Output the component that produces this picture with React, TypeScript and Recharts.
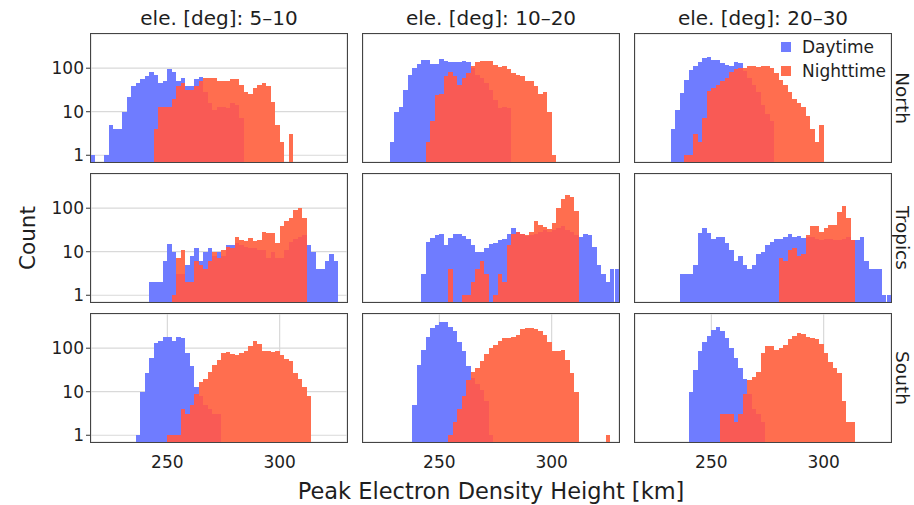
import { BarChart, Bar, XAxis, YAxis, CartesianGrid } from 'recharts';

// 2 km histogram bins between 216 and 330 km (centres)
const binCentres = [
  217, 219, 221, 223, 225, 227, 229, 231, 233, 235, 237, 239, 241, 243, 245, 247, 249, 251, 253,
  255, 257, 259, 261, 263, 265, 267, 269, 271, 273, 275, 277, 279, 281, 283, 285, 287, 289, 291,
  293, 295, 297, 299, 301, 303, 305, 307, 309, 311, 313, 315, 317, 319, 321, 323, 325, 327, 329,
];

const elevationBins = ['5–10', '10–20', '20–30'];
const regions = ['North', 'Tropics', 'South'];
const xTicks = [250, 300];
const yTicks = [1, 10, 100];

// counts per bin, North
const northDay_5_10 = [
  1, 0, 0, 1, 5, 4, 4, 10, 22, 38, 45, 55, 65, 80, 70, 45, 50, 95, 80, 50,
  58, 38, 40, 55, 62, 29, 16, 11, 13, 13, 12, 16, 14, 7, 0, 0, 0, 0, 0, 0,
  0, 0, 0, 0, 0, 0, 0, 0, 0, 0, 0, 0, 0, 0, 0, 0, 0,
];
const northNight_5_10 = [
  0, 0, 0, 0, 0, 0, 0, 0, 0, 0, 0, 0, 0, 0, 4, 13, 13, 13, 20, 38,
  45, 32, 32, 38, 50, 60, 60, 60, 50, 50, 50, 55, 55, 42, 29, 25, 35, 42, 45, 38,
  17, 5, 2, 0, 3, 0, 0, 0, 0, 0, 0, 0, 0, 0, 0, 0, 0,
];
const northDay_10_20 = [
  0, 0, 0, 0, 0, 0, 2, 10, 13, 32, 70, 100, 123, 155, 155, 125, 125, 165, 150, 142,
  142, 138, 150, 138, 100, 70, 59, 45, 32, 19, 12, 13, 12, 0, 0, 0, 0, 0, 0, 0,
  0, 0, 0, 0, 0, 0, 0, 0, 0, 0, 0, 0, 0, 0, 0, 0, 0,
];
const northNight_10_20 = [
  0, 0, 0, 0, 0, 0, 0, 0, 0, 0, 0, 0, 0, 0, 2, 6, 24, 25, 65, 80,
  65, 42, 59, 78, 110, 138, 146, 146, 146, 120, 105, 110, 97, 78, 70, 65, 51, 50, 38, 25,
  29, 10, 1, 0, 0, 0, 0, 0, 0, 0, 0, 0, 0, 0, 0, 0, 0,
];
const northDay_20_30 = [
  0, 0, 0, 0, 0, 0, 0, 0, 4, 11, 27, 54, 92, 115, 138, 170, 185, 152, 155, 130,
  120, 115, 138, 130, 84, 60, 42, 29, 14, 9, 6, 0, 0, 0, 0, 0, 0, 0, 0, 0,
  0, 0, 0, 0, 0, 0, 0, 0, 0, 0, 0, 0, 0, 0, 0, 0, 0,
];
const northNight_20_30 = [
  0, 0, 0, 0, 0, 0, 0, 0, 0, 0, 0, 1, 1, 3, 2, 7, 30, 35, 42, 51,
  60, 80, 95, 100, 103, 110, 115, 108, 110, 110, 100, 78, 54, 41, 29, 20, 16, 13, 8, 4,
  2, 5, 0, 0, 0, 0, 0, 0, 0, 0, 0, 0, 0, 0, 0, 0, 0,
];

// counts per bin, Tropics
const tropicsDay_5_10 = [
  0, 0, 0, 0, 0, 0, 0, 0, 0, 0, 0, 0, 0, 2, 2, 2, 6, 15, 10, 3,
  3, 5, 8, 12, 6, 10, 12, 8, 10, 8, 14, 14, 16, 14, 13, 12, 12, 11, 11, 7,
  10, 7, 7, 11, 17, 20, 22, 24, 14, 10, 4, 4, 6, 9, 6, 0, 0,
];
const tropicsNight_5_10 = [
  0, 0, 0, 0, 0, 0, 0, 0, 0, 0, 0, 0, 0, 0, 0, 0, 0, 0, 1, 7,
  11, 2, 2, 6, 5, 4, 6, 10, 7, 11, 13, 12, 22, 19, 18, 21, 18, 19, 28, 27,
  27, 16, 38, 51, 60, 92, 103, 59, 0, 0, 0, 0, 0, 0, 0, 0, 0,
];
const tropicsDay_10_20 = [
  0, 0, 0, 0, 0, 0, 0, 0, 0, 0, 0, 0, 0, 3, 17, 21, 24, 26, 14, 21,
  25, 25, 23, 20, 14, 10, 10, 12, 15, 16, 19, 20, 26, 35, 29, 25, 23, 24, 26, 29,
  32, 29, 32, 35, 38, 32, 29, 24, 22, 26, 24, 13, 5, 3, 2, 4, 4,
];
const tropicsNight_10_20 = [
  0, 0, 0, 0, 0, 0, 0, 0, 0, 0, 0, 0, 0, 0, 0, 0, 0, 0, 0, 4,
  0, 0, 1, 1, 2, 4, 6, 3, 0, 1, 3, 2, 14, 25, 29, 25, 24, 29, 51, 41,
  37, 34, 45, 100, 160, 205, 185, 84, 0, 0, 0, 0, 0, 0, 0, 0, 0,
];
const tropicsDay_20_30 = [
  0, 0, 0, 0, 0, 0, 0, 0, 0, 0, 3, 3, 3, 5, 27, 35, 27, 20, 22, 22,
  16, 11, 6, 8, 5, 4, 5, 9, 10, 14, 17, 20, 20, 22, 25, 22, 23, 21, 22, 22,
  20, 19, 20, 20, 19, 19, 20, 22, 19, 19, 22, 6, 4, 4, 4, 1, 1,
];
const tropicsNight_20_30 = [
  0, 0, 0, 0, 0, 0, 0, 0, 0, 0, 0, 0, 0, 0, 0, 0, 0, 0, 0, 0,
  0, 0, 0, 0, 0, 0, 0, 0, 0, 0, 0, 0, 7, 6, 11, 12, 8, 9, 24, 38,
  38, 29, 35, 41, 42, 80, 110, 59, 19, 0, 0, 0, 0, 0, 0, 0, 0,
];

// counts per bin, South
const southDay_5_10 = [
  0, 0, 0, 0, 0, 0, 0, 0, 0, 0, 1, 10, 27, 59, 130, 147, 185, 178, 147, 180,
  175, 78, 38, 13, 8, 5, 4, 3, 3, 0, 0, 0, 0, 0, 0, 0, 0, 0, 0, 0,
  0, 0, 0, 0, 0, 0, 0, 0, 0, 0, 0, 0, 0, 0, 0, 0, 0,
];
const southNight_5_10 = [
  0, 0, 0, 0, 0, 0, 0, 0, 0, 0, 0, 0, 0, 0, 0, 0, 0, 1, 1, 1,
  4, 3, 5, 9, 17, 20, 29, 42, 54, 78, 80, 73, 70, 78, 84, 110, 147, 123, 88, 87,
  82, 87, 70, 57, 50, 27, 20, 13, 8, 0, 0, 0, 0, 0, 0, 0, 0,
];
const southDay_10_20 = [
  0, 0, 0, 0, 0, 0, 0, 0, 0, 0, 0, 5, 41, 92, 185, 285, 350, 405, 390, 310,
  245, 142, 84, 38, 21, 15, 11, 6, 1, 0, 0, 0, 0, 0, 0, 0, 0, 0, 0, 0,
  0, 0, 0, 0, 0, 0, 0, 0, 0, 0, 0, 0, 0, 0, 0, 0, 0,
];
const southNight_10_20 = [
  0, 0, 0, 0, 0, 0, 0, 0, 0, 0, 0, 0, 0, 0, 0, 0, 0, 0, 0, 1,
  2, 4, 8, 19, 29, 35, 50, 73, 100, 120, 147, 175, 170, 178, 205, 275, 295, 295, 275, 250,
  200, 142, 87, 84, 92, 54, 27, 10, 0, 0, 0, 0, 0, 0, 1, 0, 0,
];
const southDay_20_30 = [
  0, 0, 0, 0, 0, 0, 0, 0, 0, 0, 0, 0, 10, 32, 84, 142, 195, 260, 300, 245,
  170, 103, 59, 35, 20, 9, 4, 3, 2, 0, 0, 0, 0, 0, 0, 0, 0, 0, 0, 0,
  0, 0, 0, 0, 0, 0, 0, 0, 0, 0, 0, 0, 0, 0, 0, 0, 0,
];
const southNight_20_30 = [
  0, 0, 0, 0, 0, 0, 0, 0, 0, 0, 0, 0, 0, 0, 0, 0, 0, 0, 0, 3,
  3, 3, 2, 3, 9, 19, 22, 29, 78, 110, 110, 92, 103, 120, 165, 195, 220, 210, 185, 170,
  160, 123, 78, 48, 35, 27, 6, 2, 2, 0, 0, 0, 0, 0, 0, 0, 0,
];

const dayCounts = [
  [northDay_5_10, northDay_10_20, northDay_20_30],
  [tropicsDay_5_10, tropicsDay_10_20, tropicsDay_20_30],
  [southDay_5_10, southDay_10_20, southDay_20_30],
];
const nightCounts = [
  [northNight_5_10, northNight_10_20, northNight_20_30],
  [tropicsNight_5_10, tropicsNight_10_20, tropicsNight_20_30],
  [southNight_5_10, southNight_10_20, southNight_20_30],
];

const FONT = '"DejaVu Sans", Verdana, sans-serif';
const DAY_COLOR = '#6f7cff';
const NIGHT_COLOR = '#ff6e4f';
const OVERLAP_COLOR = '#f95a55';
const TEXT_COLOR = '#1e1e1e';

const PLOT_W = 256;
const PLOT_H = 128;
const COL_X = [91, 363, 635];
const ROW_Y = [34, 174, 314];
const Y_AXIS_W = 45;
const TOP_PAD = 4;
const RIGHT_PAD = 4;
const X_AXIS_H = 40;
const CHART_W = Y_AXIS_W + PLOT_W + RIGHT_PAD;
const CHART_H = TOP_PAD + PLOT_H + X_AXIS_H;
const BAR_W = PLOT_W / binCentres.length - 0.01;

const tickStyle = { fontSize: 17, fill: TEXT_COLOR, fontFamily: FONT };

function Panel({ row, col }: { row: number; col: number }) {
  const day = dayCounts[row][col];
  const night = nightCounts[row][col];
  // empty bins are left out (log axis), overlap drawn as its own layer on top
  const data = binCentres.map((km, i) => ({
    km,
    day: day[i] > 0 ? day[i] : null,
    night: night[i] > 0 ? night[i] : null,
    both: day[i] > 0 && night[i] > 0 ? Math.min(day[i], night[i]) : null,
  }));
  const showY = col === 0;
  const showX = row === 2;

  return (
    <div style={{ position: 'absolute', left: COL_X[col] - Y_AXIS_W, top: ROW_Y[row] - TOP_PAD }}>
      <BarChart
        width={CHART_W}
        height={CHART_H}
        data={data}
        margin={{ top: TOP_PAD, right: RIGHT_PAD, left: 0, bottom: 0 }}
        barCategoryGap={0}
        barGap={0}
      >
        <CartesianGrid xAxisId="km" stroke="#d9d9d9" strokeWidth={1.2} />
        <XAxis
          xAxisId="km"
          type="number"
          dataKey="km"
          domain={[216, 330]}
          allowDataOverflow
          ticks={xTicks}
          height={X_AXIS_H}
          axisLine={false}
          tickLine={false}
          tickSize={0}
          tickMargin={14}
          tick={showX ? tickStyle : false}
        />
        <XAxis xAxisId="day" dataKey="km" type="category" height={0} hide />
        <XAxis xAxisId="night" dataKey="km" type="category" height={0} hide />
        <XAxis xAxisId="both" dataKey="km" type="category" height={0} hide />
        <YAxis
          scale="log"
          domain={[0.7, 610]}
          allowDataOverflow
          ticks={yTicks}
          width={Y_AXIS_W}
          axisLine={false}
          tickLine={showY ? { stroke: '#333' } : false}
          tickSize={5}
          tickMargin={2}
          tick={showY ? tickStyle : false}
        />
        <Bar xAxisId="day" dataKey="day" fill={DAY_COLOR} barSize={BAR_W} isAnimationActive={false} />
        <Bar xAxisId="night" dataKey="night" fill={NIGHT_COLOR} barSize={BAR_W} isAnimationActive={false} />
        <Bar xAxisId="both" dataKey="both" fill={OVERLAP_COLOR} barSize={BAR_W} isAnimationActive={false} />
      </BarChart>
      <div
        style={{
          position: 'absolute',
          left: Y_AXIS_W - 1,
          top: TOP_PAD - 1,
          width: PLOT_W,
          height: PLOT_H,
          border: '1px solid #444',
          pointerEvents: 'none',
        }}
      />
    </div>
  );
}

const labelBase = {
  position: 'absolute' as const,
  fontFamily: FONT,
  color: TEXT_COLOR,
  whiteSpace: 'nowrap' as const,
  transform: 'translate(-50%, -50%)',
};

export default function App() {
  return (
    <div style={{ position: 'absolute', left: 0, top: 0, width: 914, height: 505, background: '#fff' }}>
      <style>{'.recharts-bar-rectangle path { shape-rendering: crispEdges; }'}</style>
      {regions.map((_, r) => elevationBins.map((__, c) => <Panel key={`${r}-${c}`} row={r} col={c} />))}

      {elevationBins.map((e, c) => (
        <div key={e} style={{ ...labelBase, left: COL_X[c] + PLOT_W / 2, top: 18, fontSize: 20 }}>
          ele. [deg]: {e}
        </div>
      ))}

      {regions.map((name, r) => (
        <div
          key={name}
          style={{
            ...labelBase,
            left: 902,
            top: ROW_Y[r] + PLOT_H / 2,
            fontSize: 18.5,
            transform: 'translate(-50%, -50%) rotate(90deg)',
          }}
        >
          {name}
        </div>
      ))}

      <div
        style={{
          ...labelBase,
          left: 27,
          top: 238,
          fontSize: 21.5,
          transform: 'translate(-50%, -50%) rotate(-90deg)',
        }}
      >
        Count
      </div>
      <div style={{ ...labelBase, left: 491, top: 491, fontSize: 22.5 }}>Peak Electron Density Height [km]</div>

      {[
        { name: 'Daytime', color: DAY_COLOR, top: 37 },
        { name: 'Nighttime', color: NIGHT_COLOR, top: 61 },
      ].map((item) => (
        <div
          key={item.name}
          style={{
            position: 'absolute',
            left: 781,
            top: item.top,
            height: 20,
            display: 'flex',
            alignItems: 'center',
            fontFamily: FONT,
            fontSize: 17,
            color: TEXT_COLOR,
          }}
        >
          <span style={{ width: 10, height: 10, background: item.color, marginRight: 11 }} />
          {item.name}
        </div>
      ))}
    </div>
  );
}
